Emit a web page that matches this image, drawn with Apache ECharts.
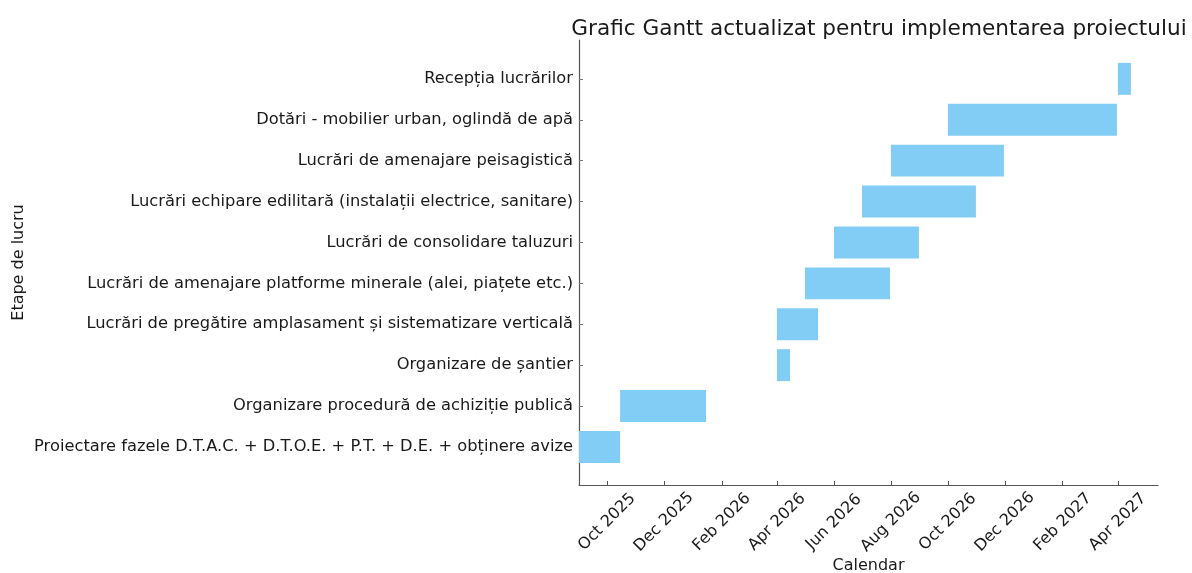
<!DOCTYPE html>
<html>
<head>
<meta charset="utf-8">
<title>Grafic Gantt</title>
<script src="https://cdn.jsdelivr.net/npm/echarts@6/dist/echarts.min.js"></script>
<style>
  html, body { margin: 0; padding: 0; background: #fff; }
  #chart { width: 1192px; height: 573px; }
</style>
</head>
<body>
<div id="chart"></div>
<script>
// etape (de jos in sus, ca in grafic)
var tasks = [
  'Proiectare fazele D.T.A.C. + D.T.O.E. + P.T. + D.E. + obținere avize',
  'Organizare procedură de achiziție publică',
  'Organizare de șantier',
  'Lucrări de pregătire amplasament și sistematizare verticală',
  'Lucrări de amenajare platforme minerale (alei, piațete etc.)',
  'Lucrări de consolidare taluzuri',
  'Lucrări echipare edilitară (instalații electrice, sanitare)',
  'Lucrări de amenajare peisagistică',
  'Dotări - mobilier urban, oglindă de apă',
  'Recepția lucrărilor'
]
var startDates = [
  '2025-09-01', '2025-10-15', '2026-04-01', '2026-04-01', '2026-05-01',
  '2026-06-01', '2026-07-01', '2026-08-01', '2026-10-01', '2027-04-01'
]
var endDates = [
  '2025-10-15', '2026-01-15', '2026-04-15', '2026-05-15', '2026-07-31',
  '2026-08-31', '2026-10-31', '2026-11-30', '2027-03-31', '2027-04-15'
]
var tickDates = [
  '2025-10-01', '2025-12-01', '2026-02-01', '2026-04-01', '2026-06-01',
  '2026-08-01', '2026-10-01', '2026-12-01', '2027-02-01', '2027-04-01'
]
var tickLabels = [
  'Oct 2025', 'Dec 2025', 'Feb 2026', 'Apr 2026', 'Jun 2026',
  'Aug 2026', 'Oct 2026', 'Dec 2026', 'Feb 2027', 'Apr 2027'
]
var axisStart = '2025-09-01'
var axisEnd = '2027-05-14'

function ts(s) {
  return Date.UTC(+s.slice(0, 4), +s.slice(5, 7) - 1, +s.slice(8, 10))
}

var font = 'DejaVu Sans'
var tickTs = tickDates.map(ts)
var taskIdx = tasks.map(function (t, i) { return i })
var barData = tasks.map(function (t, i) {
  return [i, ts(startDates[i]), ts(endDates[i])]
})

var chart = echarts.init(document.getElementById('chart'))
chart.setOption({
  animation: false,
  title: {
    text: 'Grafic Gantt actualizat pentru implementarea proiectului',
    left: 874,
    top: 13,
    textAlign: 'center',
    textStyle: { fontFamily: font, fontSize: 21.6, fontWeight: 'normal', color: '#1a1a1a' }
  },
  grid: { left: 579, right: 34, top: 40, bottom: 88, outerBoundsMode: 'none', containLabel: false },
  xAxis: {
    type: 'value',
    min: ts(axisStart),
    max: ts(axisEnd),
    name: 'Calendar',
    nameLocation: 'middle',
    nameGap: 73,
    nameMoveOverlap: false,
    nameTextStyle: { fontFamily: font, fontSize: 16, color: '#1a1a1a' },
    axisLine: { show: true, onZero: false, lineStyle: { color: '#555', width: 1.2 } },
    axisTick: { show: true, inside: true, length: 4, customValues: tickTs, lineStyle: { color: '#555' } },
    splitLine: { show: false },
    axisLabel: {
      customValues: tickTs,
      rotate: 45,
      align: 'center',
      verticalAlign: 'middle',
      margin: 37,
      fontFamily: font,
      fontSize: 16,
      color: '#1a1a1a',
      formatter: function (v) {
        var i = tickTs.indexOf(v)
        return i >= 0 ? tickLabels[i] : ''
      }
    }
  },
  yAxis: {
    type: 'value',
    min: -0.93,
    max: 9.95,
    name: 'Etape de lucru',
    nameLocation: 'middle',
    nameGap: 552,
    nameRotate: 90,
    nameMoveOverlap: false,
    nameTextStyle: { fontFamily: font, fontSize: 16, color: '#1a1a1a' },
    axisLine: { show: true, onZero: false, lineStyle: { color: '#555', width: 1.2 } },
    axisTick: { show: true, inside: true, length: 4, customValues: taskIdx, lineStyle: { color: '#777' } },
    splitLine: { show: false },
    axisLabel: {
      customValues: taskIdx,
      margin: 6,
      fontFamily: font,
      fontSize: 16.3,
      color: '#1a1a1a',
      formatter: function (v) {
        return tasks[Math.round(v)] || ''
      }
    }
  },
  series: [{
    type: 'custom',
    data: barData,
    encode: { x: [1, 2], y: 0 },
    renderItem: function (params, api) {
      var y = api.value(0)
      var p0 = api.coord([api.value(1), y])
      var p1 = api.coord([api.value(2), y])
      var h = api.size([0, 1])[1] * 0.78
      return {
        type: 'rect',
        shape: { x: p0[0], y: p0[1] - h / 2, width: p1[0] - p0[0], height: h },
        style: { fill: '#82cdf5' }
      }
    }
  }]
})
</script>
</body>
</html>
